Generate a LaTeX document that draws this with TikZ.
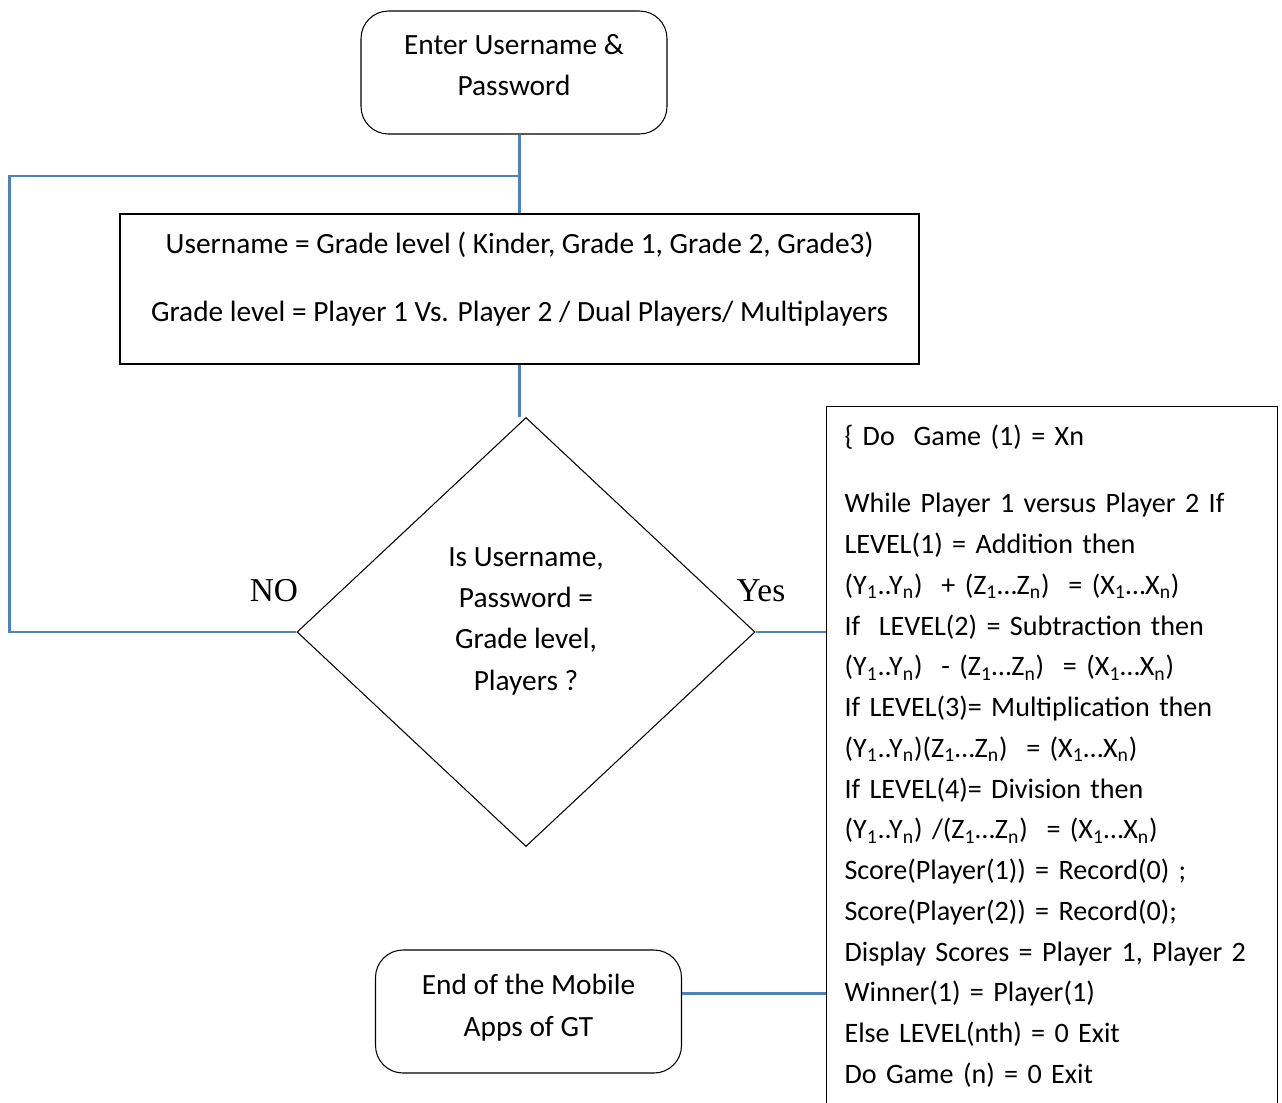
\documentclass[tikz,border=0pt]{standalone}
\usepackage{fontspec}
\setmainfont{Carlito}
\newfontfamily\labelfont{Liberation Serif}
\usetikzlibrary{shapes.geometric}
\definecolor{linkblue}{RGB}{79,129,189}
\newcommand{\lsub}[1]{\textsubscript{#1}}

\begin{document}
\begin{tikzpicture}[
    every node/.style={font=\fontsize{16.7}{23.5}\selectfont},
    terminal/.style={rectangle, rounded corners=0.55cm, draw, line width=0.6pt, minimum width=6.12cm, minimum height=2.46cm, align=center},
    process/.style={rectangle, draw, line width=0.6pt, align=center},
    decision/.style={diamond, draw, line width=0.6pt, minimum width=9.16cm, minimum height=8.58cm, align=center, inner sep=0pt},
    link/.style={draw=linkblue, line width=1.5pt},
    branch/.style={font=\labelfont\fontsize{19}{22}\selectfont}
  ]
    \useasboundingbox (0,0) rectangle (25.64,-22.04);

    % ノード
    \node[terminal, text depth=8.2pt] (start) at (10.28,-1.45) {Enter Username \&\\Password};
    \node[process, minimum width=15.98cm, minimum height=3cm, text depth=14.3pt] (grade) at (10.39,-5.78)
      {Username = Grade level ( Kinder, Grade 1, Grade 2, Grade3)\\[15pt]Grade level = Player 1 Vs. Player 2 / Dual Players/ Multiplayers};
    \node[decision, text depth=15pt] (check) at (10.52,-12.64) {Is Username,\\Password =\\Grade level,\\Players ?};
    \node[process, anchor=north west, text width=8.3cm, inner sep=0.36cm, align=left, font=\fontsize{16}{23.2}\selectfont] (game) at (16.52,-8.12)
      {\{ Do~~Game (1) = Xn\\[15.3pt]
       While Player 1 versus Player 2 If\\
       LEVEL(1) = Addition then\\
       (Y\lsub{1}..Y\lsub{n})~~+ (Z\lsub{1}…Z\lsub{n})~~= (X\lsub{1}…X\lsub{n})\\
       If~~LEVEL(2) = Subtraction then\\
       (Y\lsub{1}..Y\lsub{n})~~- (Z\lsub{1}…Z\lsub{n})~~= (X\lsub{1}…X\lsub{n})\\
       If LEVEL(3)= Multiplication then\\
       (Y\lsub{1}..Y\lsub{n})(Z\lsub{1}…Z\lsub{n})~~= (X\lsub{1}…X\lsub{n})\\
       If LEVEL(4)= Division then\\
       (Y\lsub{1}..Y\lsub{n}) /(Z\lsub{1}…Z\lsub{n})~~= (X\lsub{1}…X\lsub{n})\\
       Score(Player(1)) = Record(0) ;\\
       Score(Player(2)) = Record(0);\\
       Display Scores = Player 1, Player 2\\
       Winner(1) = Player(1)\\
       Else LEVEL(nth) = 0 Exit\\
       Do Game (n) = 0 Exit};
    \node[terminal, text depth=7.2pt] (finish) at (10.57,-20.23) {End of the Mobile\\Apps of GT};

    % ラベル
    \node[branch] (no) at (5.48,-11.82) {NO};
    \node[branch] (yes) at (15.22,-11.82) {Yes};

    % エッジ
    \coordinate (back) at (grade.north |- 0,-3.52);
    \draw[link] (start.south -| grade.north) -- (grade.north);
    \draw[link] (grade.south) -- (grade.south |- check.north);
    \draw[link] (check.west) -- ++(-5.74,0) |- (back);
    \draw[link] (check.east) -- (check.east -| game.west);
    \draw[link] ([yshift=0.36cm]finish.east) -- ([yshift=0.36cm]finish.east -| game.west);
\end{tikzpicture}
\end{document}
